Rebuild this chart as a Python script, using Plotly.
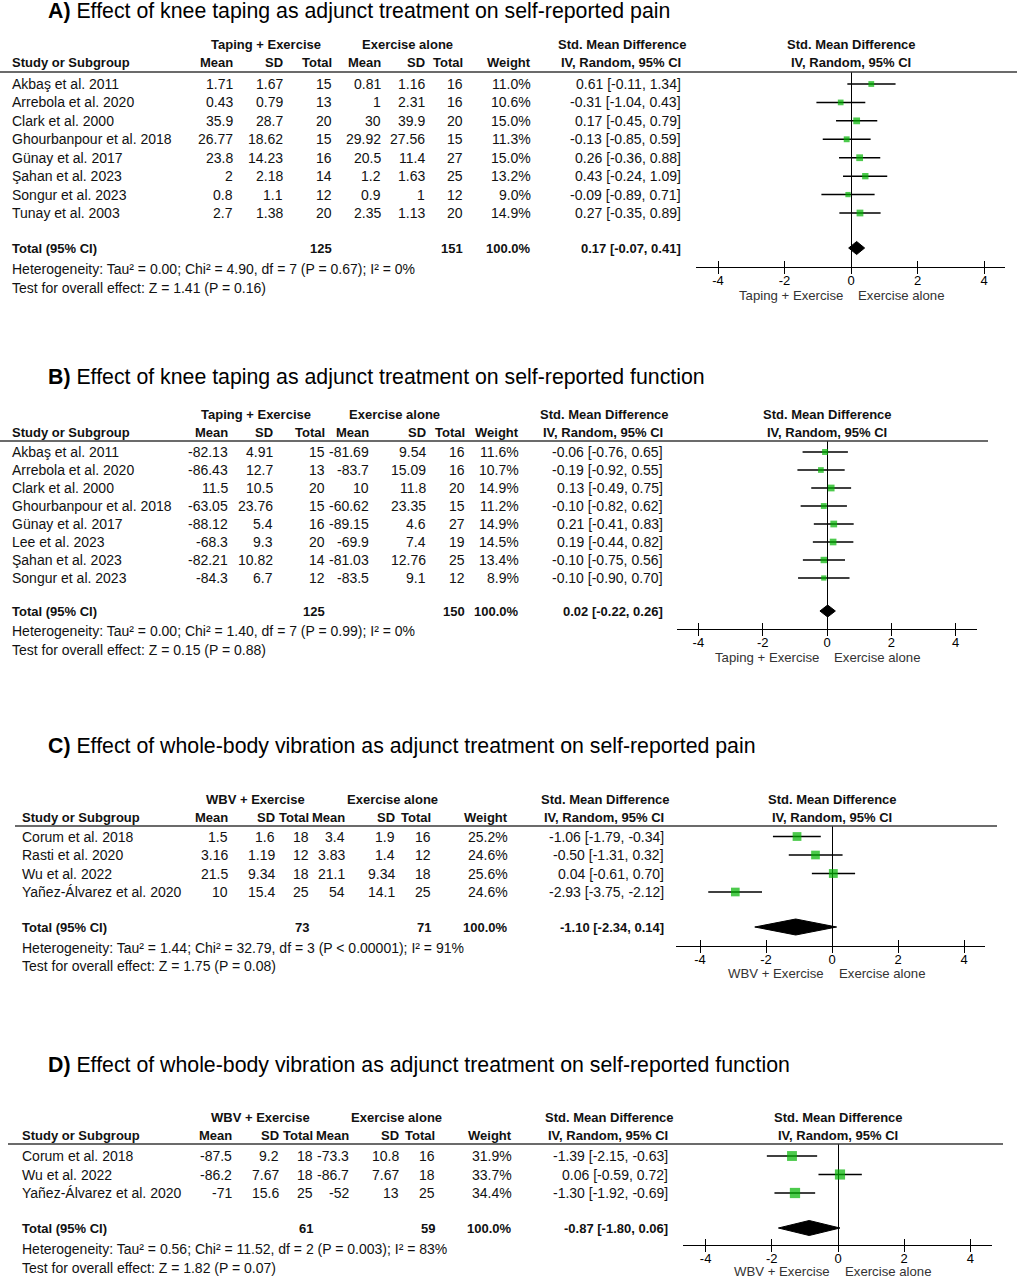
import plotly.graph_objects as go

# ---------------------------------------------------------------- data
# Panel A: knee taping, pain
studies_A = ["Akbaş et al. 2011", "Arrebola et al. 2020", "Clark et al. 2000",
             "Ghourbanpour et al. 2018", "Günay et al. 2017", "Şahan et al. 2023",
             "Songur et al. 2023", "Tunay et al. 2003"]
meanE_A = [1.71, 0.43, 35.9, 26.77, 23.8, 2, 0.8, 2.7]
sdE_A = [1.67, 0.79, 28.7, 18.62, 14.23, 2.18, 1.1, 1.38]
nE_A = [15, 13, 20, 15, 16, 14, 12, 20]
meanC_A = [0.81, 1, 30, 29.92, 20.5, 1.2, 0.9, 2.35]
sdC_A = [1.16, 2.31, 39.9, 27.56, 11.4, 1.63, 1, 1.13]
nC_A = [16, 16, 20, 15, 27, 25, 12, 20]
weight_A = [11.0, 10.6, 15.0, 11.3, 15.0, 13.2, 9.0, 14.9]
smd_A = [0.61, -0.31, 0.17, -0.13, 0.26, 0.43, -0.09, 0.27]
lo_A = [-0.11, -1.04, -0.45, -0.85, -0.36, -0.24, -0.89, -0.35]
hi_A = [1.34, 0.43, 0.79, 0.59, 0.88, 1.09, 0.71, 0.89]
total_A = dict(nE=125, nC=151, weight=100.0, smd=0.17, lo=-0.07, hi=0.41)
het_A = "Heterogeneity: Tau² = 0.00; Chi² = 4.90, df = 7 (P = 0.67); I² = 0%"
test_A = "Test for overall effect: Z = 1.41 (P = 0.16)"

# Panel B: knee taping, function
studies_B = ["Akbaş et al. 2011", "Arrebola et al. 2020", "Clark et al. 2000",
             "Ghourbanpour et al. 2018", "Günay et al. 2017", "Lee et al. 2023",
             "Şahan et al. 2023", "Songur et al. 2023"]
meanE_B = [-82.13, -86.43, 11.5, -63.05, -88.12, -68.3, -82.21, -84.3]
sdE_B = [4.91, 12.7, 10.5, 23.76, 5.4, 9.3, 10.82, 6.7]
nE_B = [15, 13, 20, 15, 16, 20, 14, 12]
meanC_B = [-81.69, -83.7, 10, -60.62, -89.15, -69.9, -81.03, -83.5]
sdC_B = [9.54, 15.09, 11.8, 23.35, 4.6, 7.4, 12.76, 9.1]
nC_B = [16, 16, 20, 15, 27, 19, 25, 12]
weight_B = [11.6, 10.7, 14.9, 11.2, 14.9, 14.5, 13.4, 8.9]
smd_B = [-0.06, -0.19, 0.13, -0.10, 0.21, 0.19, -0.10, -0.10]
lo_B = [-0.76, -0.92, -0.49, -0.82, -0.41, -0.44, -0.75, -0.90]
hi_B = [0.65, 0.55, 0.75, 0.62, 0.83, 0.82, 0.56, 0.70]
total_B = dict(nE=125, nC=150, weight=100.0, smd=0.02, lo=-0.22, hi=0.26)
het_B = "Heterogeneity: Tau² = 0.00; Chi² = 1.40, df = 7 (P = 0.99); I² = 0%"
test_B = "Test for overall effect: Z = 0.15 (P = 0.88)"

# Panel C: whole-body vibration, pain
studies_C = ["Corum et al. 2018", "Rasti et al. 2020", "Wu et al. 2022",
             "Yañez-Álvarez et al. 2020"]
meanE_C = [1.5, 3.16, 21.5, 10]
sdE_C = [1.6, 1.19, 9.34, 15.4]
nE_C = [18, 12, 18, 25]
meanC_C = [3.4, 3.83, 21.1, 54]
sdC_C = [1.9, 1.4, 9.34, 14.1]
nC_C = [16, 12, 18, 25]
weight_C = [25.2, 24.6, 25.6, 24.6]
smd_C = [-1.06, -0.50, 0.04, -2.93]
lo_C = [-1.79, -1.31, -0.61, -3.75]
hi_C = [-0.34, 0.32, 0.70, -2.12]
total_C = dict(nE=73, nC=71, weight=100.0, smd=-1.10, lo=-2.34, hi=0.14)
het_C = "Heterogeneity: Tau² = 1.44; Chi² = 32.79, df = 3 (P < 0.00001); I² = 91%"
test_C = "Test for overall effect: Z = 1.75 (P = 0.08)"

# Panel D: whole-body vibration, function
studies_D = ["Corum et al. 2018", "Wu et al. 2022", "Yañez-Álvarez et al. 2020"]
meanE_D = [-87.5, -86.2, -71]
sdE_D = [9.2, 7.67, 15.6]
nE_D = [18, 18, 25]
meanC_D = [-73.3, -86.7, -52]
sdC_D = [10.8, 7.67, 13]
nC_D = [16, 18, 25]
weight_D = [31.9, 33.7, 34.4]
smd_D = [-1.39, 0.06, -1.30]
lo_D = [-2.15, -0.59, -1.92]
hi_D = [-0.63, 0.72, -0.69]
total_D = dict(nE=61, nC=59, weight=100.0, smd=-0.87, lo=-1.80, hi=0.06)
het_D = "Heterogeneity: Tau² = 0.56; Chi² = 11.52, df = 2 (P = 0.003); I² = 83%"
test_D = "Test for overall effect: Z = 1.82 (P = 0.07)"

tick_vals = [-4, -2, 0, 2, 4]
tick_text = ["-4", "-2", "0", "2", "4"]
col_headers = ["Mean", "SD", "Total", "Mean", "SD", "Total", "Weight", "IV, Random, 95% CI"]

panels = [
    dict(tag="A)", title="Effect of knee taping as adjunct treatment on self-reported pain",
         exp="Taping + Exercise", ctrl="Exercise alone",
         studies=studies_A, meanE=meanE_A, sdE=sdE_A, nE=nE_A, meanC=meanC_A, sdC=sdC_A,
         nC=nC_A, weight=weight_A, smd=smd_A, lo=lo_A, hi=hi_A, total=total_A,
         het=het_A, test=test_A),
    dict(tag="B)", title="Effect of knee taping as adjunct treatment on self-reported function",
         exp="Taping + Exercise", ctrl="Exercise alone",
         studies=studies_B, meanE=meanE_B, sdE=sdE_B, nE=nE_B, meanC=meanC_B, sdC=sdC_B,
         nC=nC_B, weight=weight_B, smd=smd_B, lo=lo_B, hi=hi_B, total=total_B,
         het=het_B, test=test_B),
    dict(tag="C)", title="Effect of whole-body vibration as adjunct treatment on self-reported pain",
         exp="WBV + Exercise", ctrl="Exercise alone",
         studies=studies_C, meanE=meanE_C, sdE=sdE_C, nE=nE_C, meanC=meanC_C, sdC=sdC_C,
         nC=nC_C, weight=weight_C, smd=smd_C, lo=lo_C, hi=hi_C, total=total_C,
         het=het_C, test=test_C),
    dict(tag="D)", title="Effect of whole-body vibration as adjunct treatment on self-reported function",
         exp="WBV + Exercise", ctrl="Exercise alone",
         studies=studies_D, meanE=meanE_D, sdE=sdE_D, nE=nE_D, meanC=meanC_D, sdC=sdC_D,
         nC=nC_D, weight=weight_D, smd=smd_D, lo=lo_D, hi=hi_D, total=total_D,
         het=het_D, test=test_D),
]

# ---------------------------------------------------------------- layout (pixels)
W, H = 1018, 1280
geo = [
    dict(title_y=11, x0=10, cols=[235, 285, 334, 383, 427, 465, 533, 683],
         grp=[266, 407], h1=44, h2=62, line_y=72, line_x=(0, 1017),
         row0=84, dy=18.43, total_y=248, het_y=269, test_y=288,
         zero=851, ppu=33.25, axis_x=(696, 1005), axis_y=267, leg_y=295, dia=6.5),
    dict(title_y=377, x0=10, cols=[230, 275, 327, 371, 428, 467, 521, 665],
         grp=[256, 394], h1=414, h2=432, line_y=441, line_x=(0, 988),
         row0=452, dy=18.0, total_y=611, het_y=631, test_y=650,
         zero=827, ppu=32.15, axis_x=(677, 977), axis_y=629, leg_y=657, dia=6.0),
    dict(title_y=746, x0=20, cols=[230, 277, 311, 347, 397, 433, 510, 666],
         grp=[256, 392], h1=799, h2=817, line_y=826, line_x=(15, 997),
         row0=836.5, dy=18.5, total_y=927, het_y=948, test_y=966,
         zero=832, ppu=33.0, axis_x=(676, 985), axis_y=946, leg_y=973, dia=8.0),
    dict(title_y=1065, x0=20, cols=[234, 281, 315, 351, 401, 437, 514, 670],
         grp=[260, 396], h1=1117, h2=1135, line_y=1144, line_x=(8, 1003),
         row0=1156, dy=18.5, total_y=1228, het_y=1249, test_y=1268,
         zero=838, ppu=33.1, axis_x=(683, 992), axis_y=1245, leg_y=1271.5, dia=7.5),
]

FONT = "Liberation Sans, Arial, sans-serif"
GREEN = "#00b400"
TXT = "#111111"
REG = 14
BOLD = 13
TITLE = 21.3
LEG = 13.2


def PX(p):
    return p / W


def PY(p):
    return 1 - p / H


def g(v):
    return f"{v:g}"


fig = go.Figure()
ann = []
shapes = []
axes = {}


def add_text(text, x, y, xref="paper", yref="paper", anchor="left", size=REG,
             bold=False, color=TXT, xshift=0):
    ann.append(dict(text=f"<b>{text}</b>" if bold else text, x=x, y=y, xref=xref,
                    yref=yref, xanchor=anchor, yanchor="middle", showarrow=False,
                    xshift=xshift, font=dict(family=FONT, size=size, color=color)))


for i, (P, G) in enumerate(zip(panels, geo), start=1):
    sfx = "" if i == 1 else str(i)
    xa, ya = f"x{sfx}", f"y{sfx}"
    xo = f"x{i + 4}"
    n = len(P["studies"])
    dy = G["dy"]

    def v(p, G=G):
        return (p - G["row0"]) / G["dy"]

    rows = list(range(n))
    trow = v(G["total_y"])

    # ---- title
    ann.append(dict(text=f"<b>{P['tag']}</b> {P['title']}", x=PX(46), y=PY(G["title_y"]),
                    xref="paper", yref="paper", xanchor="left", yanchor="middle",
                    showarrow=False, font=dict(family=FONT, size=TITLE, color="#000")))

    # ---- table headers
    c = G["cols"]
    add_text(P["exp"], PX(G["grp"][0]), PY(G["h1"]), anchor="center", size=BOLD, bold=True)
    add_text(P["ctrl"], PX(G["grp"][1]), PY(G["h1"]), anchor="center", size=BOLD, bold=True)
    add_text("Std. Mean Difference", PX(c[7] - 61), PY(G["h1"]), anchor="center",
             size=BOLD, bold=True)
    add_text("Study or Subgroup", PX(G["x0"]), PY(G["h2"]), size=BOLD, bold=True)
    for h, xr in zip(col_headers, c):
        add_text(h, PX(xr), PY(G["h2"]), anchor="right", size=BOLD, bold=True)
    shapes.append(dict(type="line", xref="paper", yref="paper",
                       x0=PX(G["line_x"][0]), x1=PX(G["line_x"][1]),
                       y0=PY(G["line_y"]), y1=PY(G["line_y"]),
                       line=dict(color="#3a3a3a", width=1.5)))

    # ---- table rows (aligned to the forest y axis)
    for r in rows:
        add_text(P["studies"][r], PX(G["x0"]), r, yref=ya)
        cells = [g(P["meanE"][r]), g(P["sdE"][r]), str(P["nE"][r]),
                 g(P["meanC"][r]), g(P["sdC"][r]), str(P["nC"][r]),
                 f"{P['weight'][r]:.1f}%",
                 f"{P['smd'][r]:.2f} [{P['lo'][r]:.2f}, {P['hi'][r]:.2f}]"]
        for txt, xr in zip(cells, c):
            add_text(txt, PX(xr), r, yref=ya, anchor="right")

    T = P["total"]
    add_text("Total (95% CI)", PX(G["x0"]), trow, yref=ya, size=BOLD, bold=True)
    add_text(str(T["nE"]), PX(c[2]), trow, yref=ya, anchor="right", size=BOLD, bold=True)
    add_text(str(T["nC"]), PX(c[5]), trow, yref=ya, anchor="right", size=BOLD, bold=True)
    add_text(f"{T['weight']:.1f}%", PX(c[6]), trow, yref=ya, anchor="right",
             size=BOLD, bold=True)
    add_text(f"{T['smd']:.2f} [{T['lo']:.2f}, {T['hi']:.2f}]", PX(c[7]), trow, yref=ya,
             anchor="right", size=BOLD, bold=True)
    add_text(P["het"], PX(G["x0"]), PY(G["het_y"]))
    add_text(P["test"], PX(G["x0"]), PY(G["test_y"]))

    # ---- forest header + legend labels
    add_text("Std. Mean Difference", 0, PY(G["h1"]), xref=xa, anchor="center",
             size=BOLD, bold=True)
    add_text("IV, Random, 95% CI", 0, PY(G["h2"]), xref=xa, anchor="center",
             size=BOLD, bold=True)
    add_text(P["exp"], 0, PY(G["leg_y"]), xref=xa, anchor="right", size=LEG,
             color="#333", xshift=-6)
    add_text(P["ctrl"], 0, PY(G["leg_y"]), xref=xa, anchor="left", size=LEG,
             color="#333", xshift=5)

    # ---- axes: main axis (labels, upward ticks, line, zero line);
    #      overlay axis (downward ticks) hosting the pooled diamond
    zero, ppu = G["zero"], G["ppu"]
    xrng = [(G["axis_x"][0] - zero) / ppu, (G["axis_x"][1] - zero) / ppu]
    xdom = [PX(G["axis_x"][0]), PX(G["axis_x"][1])]
    ydom = [PY(G["axis_y"]), PY(G["line_y"])]
    yrng = [v(G["axis_y"]), v(G["line_y"])]
    axes[f"xaxis{sfx}"] = dict(domain=xdom, range=xrng, anchor=ya, tickmode="array",
                               tickvals=tick_vals, ticktext=tick_text, ticks="inside",
                               ticklen=6, tickwidth=1, tickcolor="#000",
                               ticklabelstandoff=1, showline=True,
                               linecolor="#000", linewidth=1, showgrid=False,
                               zeroline=True, zerolinecolor="#000", zerolinewidth=1,
                               tickfont=dict(family=FONT, size=13, color="#000"),
                               fixedrange=True)
    axes[f"xaxis{i + 4}"] = dict(domain=xdom, range=xrng, anchor=ya, overlaying=xa,
                                 tickmode="array", tickvals=tick_vals, ticks="outside",
                                 ticklen=6, tickwidth=1, tickcolor="#000",
                                 showticklabels=False, showline=False, showgrid=False,
                                 zeroline=False, fixedrange=True)
    axes[f"yaxis{sfx}"] = dict(domain=ydom, range=yrng, visible=False, showgrid=False,
                               zeroline=False, fixedrange=True)

    # ---- study estimates with CIs
    sizes = [1.75 * w ** 0.5 for w in P["weight"]]
    fig.add_trace(go.Scatter(
        x=P["smd"], y=rows, xaxis=xa, yaxis=ya, mode="markers",
        marker=dict(symbol="square", size=sizes, color=GREEN, line=dict(width=0)),
        error_x=dict(type="data", symmetric=False,
                     array=[h - e for h, e in zip(P["hi"], P["smd"])],
                     arrayminus=[e - l for e, l in zip(P["smd"], P["lo"])],
                     color="#000", thickness=1.5, width=0),
        hoverinfo="skip", showlegend=False, cliponaxis=False))

    # ---- pooled diamond
    hh = G["dia"] / dy
    fig.add_trace(go.Scatter(
        x=[T["lo"], T["smd"], T["hi"], T["smd"], T["lo"]],
        y=[trow, trow - hh, trow, trow + hh, trow],
        xaxis=xo, yaxis=ya, mode="lines", fill="toself", fillcolor="#000",
        line=dict(color="#000", width=1), hoverinfo="skip", showlegend=False,
        cliponaxis=False))

fig.update_layout(
    width=W, height=H, autosize=False,
    margin=dict(l=0, r=0, t=0, b=0),
    paper_bgcolor="white", plot_bgcolor="rgba(0,0,0,0)",
    showlegend=False, annotations=ann, shapes=shapes,
    font=dict(family=FONT, color=TXT),
    **axes,
)

fig.write_html("out.html", config={"displayModeBar": False},
               post_script="document.body.style.margin='0px';document.body.style.overflow='hidden';")
